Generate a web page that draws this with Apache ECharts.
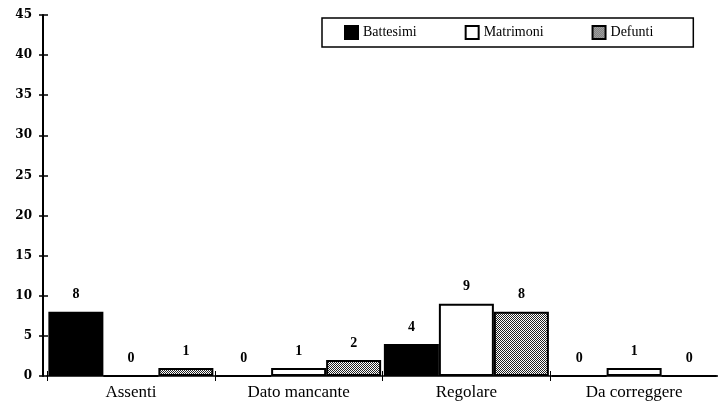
<!DOCTYPE html>
<html>
<head>
<meta charset="utf-8">
<script src="https://cdn.jsdelivr.net/npm/echarts@6/dist/echarts.min.js"></script>
<style>
  html, body { margin: 0; padding: 0; background: #fff; }
  #chart { width: 718px; height: 411px; }
</style>
</head>
<body>
<div id="chart"></div>
<script>
const categories = ["Assenti", "Dato mancante", "Regolare", "Da correggere"];
const battesimi = [8, 0, 4, 0];
const matrimoni = [0, 1, 9, 1];
const defunti = [1, 2, 8, 0];
const yTicks = { min: 0, max: 45, interval: 5 };

const font = "'Liberation Serif', 'DejaVu Serif', serif";

// retino puntinato per i defunti
const dots = document.createElement("canvas");
dots.width = 2;
dots.height = 2;
const ctx = dots.getContext("2d");
ctx.fillStyle = "#fff";
ctx.fillRect(0, 0, 2, 2);
ctx.fillStyle = "#222";
ctx.fillRect(0, 0, 1, 1);
ctx.fillRect(1, 1, 1, 1);
const dotPattern = { image: dots, repeat: "repeat" };

const barLabel = {
  show: true,
  position: "top",
  distance: 10,
  color: "#000",
  fontFamily: font,
  fontWeight: "bold",
  fontSize: 14,
};

const makeSeries = (name, data, fill) => ({
  name: name,
  type: "bar",
  data: data,
  barWidth: 55,
  barGap: "0%",
  label: barLabel,
  itemStyle: {
    color: fill,
    borderColor: "#000",
    borderWidth: 2,
  },
});

const option = {
  animation: false,
  backgroundColor: "#fff",
  grid: {
    left: 47,
    right: -7,
    top: 15,
    bottom: 35,
  },
  legend: {
    left: 322,
    top: 18,
    padding: [7, 40, 7, 22],
    borderColor: "#000",
    borderWidth: 1.5,
    itemWidth: 13,
    itemHeight: 13,
    itemGap: 48,
    icon: "rect",
    textStyle: {
      color: "#000",
      fontFamily: font,
      fontSize: 14,
    },
    data: ["Battesimi", "Matrimoni", "Defunti"],
  },
  xAxis: [
    {
      type: "category",
      data: categories,
      axisLine: { lineStyle: { color: "#000", width: 1.5 } },
      axisTick: { show: true, length: 5, lineStyle: { color: "#000" } },
      axisLabel: {
        color: "#000",
        fontFamily: font,
        fontSize: 17,
        margin: 8,
      },
    },
    {
      type: "category",
      data: categories,
      position: "bottom",
      axisLine: { show: false },
      axisTick: { show: true, inside: true, length: 5, lineStyle: { color: "#000" } },
      axisLabel: { show: false },
    },
  ],
  yAxis: [
    {
      type: "value",
      min: yTicks.min,
      max: yTicks.max,
      interval: yTicks.interval,
      position: "left",
      offset: 4,
      axisLine: { show: true, lineStyle: { color: "#000", width: 2 } },
      axisTick: { show: true, length: 4, lineStyle: { color: "#000", width: 1.5 } },
      splitLine: { show: false },
      axisLabel: {
        color: "#000",
        fontFamily: "'DejaVu Serif', serif",
        fontWeight: "bold",
        fontSize: 12,
        margin: 11,
      },
    },
    {
      type: "value",
      min: yTicks.min,
      max: yTicks.max,
      interval: yTicks.interval,
      position: "left",
      offset: 4,
      axisLine: { show: false },
      axisTick: { show: true, inside: true, length: 5, lineStyle: { color: "#000", width: 1.5 } },
      splitLine: { show: false },
      axisLabel: { show: false },
    },
  ],
  series: [
    makeSeries("Battesimi", battesimi, "#000"),
    makeSeries("Matrimoni", matrimoni, "#fff"),
    makeSeries("Defunti", defunti, dotPattern),
  ],
};

const chart = echarts.init(document.getElementById("chart"));
chart.setOption(option);
</script>
</body>
</html>
